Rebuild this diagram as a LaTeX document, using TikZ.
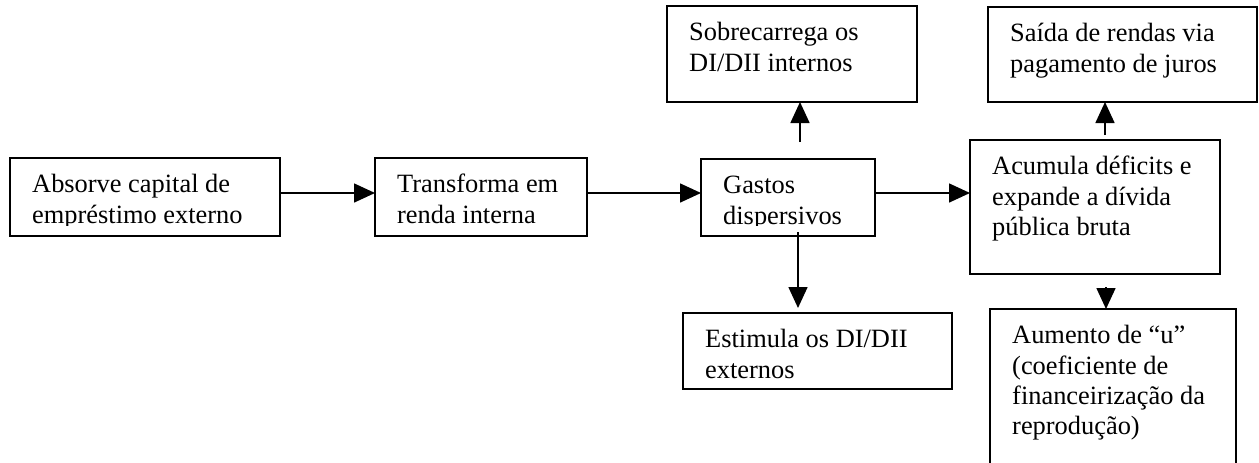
\documentclass[tikz,border=0pt]{standalone}
\usepackage{fontspec}
\setmainfont{Liberation Serif}
\usetikzlibrary{arrows.meta,calc}
\tikzset{
  boxsty/.style={draw, line width=1.6pt, inner sep=0pt, outer sep=0pt, fill=white},
  txt/.style={inner sep=0pt, anchor=north west, align=left, font=\fontsize{26.4}{30.4}\selectfont},
  arr/.style={line width=1.6pt, -{Triangle[length=21pt,width=19pt]}},
}
\newcommand\mybox[5]{\node[boxsty, minimum width={(#4-#2)*1pt}, minimum height={(#5-#3)*1pt}] (#1) at ({(#2+#4)/2},{(#3+#5)/2}) {};}
\newcommand\mytext[4]{\node[txt] (#1) at (#2+22,#3+11) {\rule{0pt}{23.5pt}#4};}
\begin{document}
\begin{tikzpicture}[x=1pt,y=-1pt]
\useasboundingbox (0,0) rectangle (1259,463);
\clip (0,0) rectangle (1259,463);
% boxes
\mybox{A}{10}{158}{280}{236}
\mybox{B}{375}{158}{587}{236}
\mybox{C}{701}{159}{875}{236}
\mybox{D}{667}{6}{917}{102}
\mybox{E}{683}{313}{952}{389}
\mybox{F}{970}{140}{1220}{274}
\mybox{G}{988}{7}{1257}{102}
\mybox{H}{990}{309}{1236}{490}
% texts (clipped to the inner margin where the reference cuts them)
\begin{scope}
  \clip (10,158) rectangle (280,225);
  \mytext{At}{10}{158}{Absorve capital de\\empréstimo externo}
\end{scope}
\begin{scope}
  \clip (375,158) rectangle (587,225);
  \mytext{Bt}{375}{158}{Transforma em\\renda interna}
\end{scope}
\begin{scope}
  \clip (701,159) rectangle (875,225);
  \mytext{Ct}{701}{159}{Gastos\\dispersivos}
\end{scope}
\mytext{Dt}{667}{6}{Sobrecarrega os\\DI/DII internos}
\mytext{Et}{683}{313}{Estimula os DI/DII\\externos}
\mytext{Ft}{970}{140}{Acumula déficits e\\expande a dívida\\pública bruta}
\mytext{Gt}{988}{7}{Saída de rendas via\\pagamento de juros}
\mytext{Ht}{990}{309}{Aumento de “u”\\(coeficiente de\\financeirização da\\reprodução)}
% connectors
\draw[arr] ([yshift=4pt]A.east) -- ([yshift=4pt]A.east -| B.west);
\draw[arr] ([yshift=4pt]B.east) -- ([yshift=4pt]B.east -| C.west);
\draw[arr] ([yshift=4.5pt]C.east) -- ([yshift=4.5pt]C.east -| F.west);
\coordinate (cd) at (800,142);
\draw[arr] (cd) -- (cd |- D.south);
\coordinate (ce) at (798,232);
\coordinate (ceend) at ($(ce |- E.north)+(0,-5)$);
\draw[arr] (ce) -- (ceend);
\coordinate (fg) at (1105,135);
\draw[arr] (fg) -- (fg |- G.south);
\coordinate (fh) at (1106,287);
\draw[arr] (fh) -- (fh |- H.north);
\end{tikzpicture}
\end{document}
